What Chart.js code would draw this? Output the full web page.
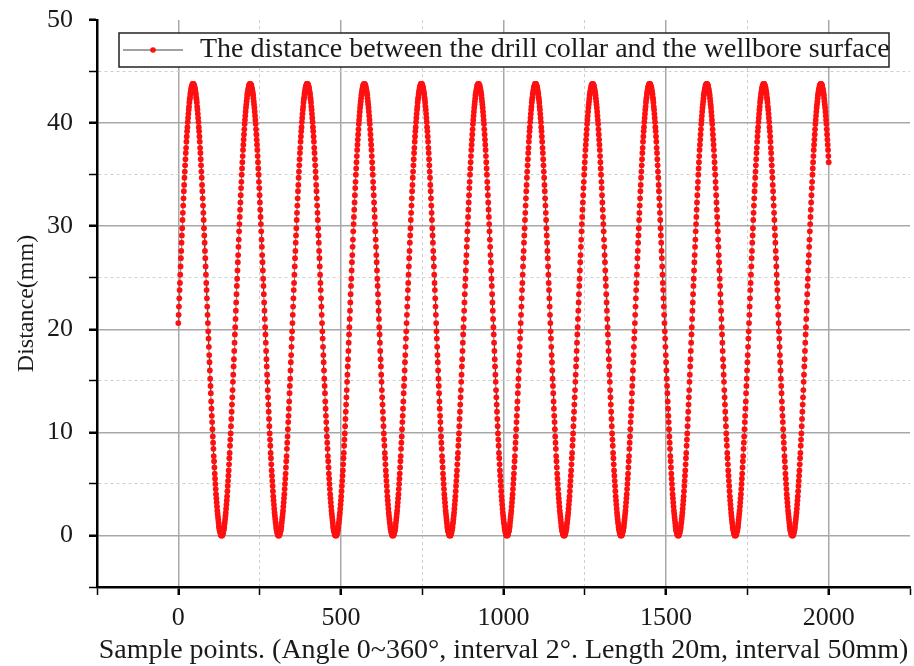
<!DOCTYPE html>
<html>
<head>
<meta charset="utf-8">
<script src="https://cdn.jsdelivr.net/npm/chart.js@4.4.1/dist/chart.umd.min.js"></script>
<style>
  html, body { margin: 0; padding: 0; background: #fff; }
  #wrap { width: 914px; height: 666px; }
</style>
</head>
<body>
<div id="wrap"><canvas id="c" width="914" height="666"></canvas></div>
<script>
var seriesLabel = "The distance between the drill collar and the wellbore surface";
var xTitle = "Sample points. (Angle 0~360\u00b0, interval 2\u00b0. Length 20m, interval 50mm)";
var yTitle = "Distance(mm)";

var xMajorTicks = [0, 500, 1000, 1500, 2000];
var xMinorTicks = [-250, 250, 750, 1250, 1750, 2250];
var yMajorTicks = [0, 10, 20, 30, 40, 50];
var yMinorTicks = [-5, 5, 15, 25, 35, 45];

// sample points are consecutive, starting here
var firstSample = 0;

// distance (mm), one value per sample point 0..2000
var distance = [
  20.6,21.4,22.2,23.0,23.8,24.5,25.3,26.1,26.9,27.6,28.4,29.1,29.8,30.6,31.3,32.0,32.7,33.4,34.0,34.7,35.3,35.9,36.5,37.1,37.6,38.2,38.7,39.2,39.6,40.1,40.5,40.9,41.3,41.6,42.0,42.3,42.5,42.8,43.0,43.2,43.4,43.5,43.6,43.7,43.8,43.8,
  43.8,43.8,43.7,43.6,43.5,43.4,43.2,43.0,42.8,42.5,42.3,42.0,41.6,41.3,40.9,40.5,40.1,39.6,39.2,38.7,38.2,37.6,37.1,36.5,35.9,35.3,34.7,34.0,33.4,32.7,32.0,31.3,30.6,29.8,29.1,28.4,27.6,26.9,26.1,25.3,24.5,23.8,23.0,22.2,21.4,20.6,19.8,19.1,18.3,17.5,16.8,16.0,15.2,14.5,13.8,13.0,12.3,11.6,11.0,10.3,9.6,9.0,8.4,7.7,7.2,6.6,6.0,5.5,5.0,4.5,4.0,3.6,3.2,2.8,2.4,2.1,1.8,1.5,1.2,0.9,0.7,0.5,0.4,0.3,0.1,0.1,0.0,0.0,
  0.0,0.0,0.1,0.2,0.3,0.5,0.6,0.8,1.1,1.3,1.6,1.9,2.2,2.6,3.0,3.4,3.8,4.3,4.8,5.3,5.8,6.3,6.9,7.5,8.0,8.7,9.3,9.9,10.6,11.3,12.0,12.7,13.4,14.1,14.9,15.6,16.4,17.1,17.9,18.7,19.5,20.2,21.0,21.8,22.6,23.4,24.2,24.9,25.7,26.5,27.2,28.0,28.7,29.5,30.2,30.9,31.6,32.3,33.0,33.7,34.3,35.0,35.6,36.2,36.8,37.4,37.9,38.4,38.9,39.4,39.9,40.3,40.7,41.1,41.5,41.8,42.1,42.4,42.7,42.9,43.1,43.3,43.4,43.6,43.7,43.7,43.8,
  43.8,43.8,43.7,43.7,43.6,43.4,43.3,43.1,42.9,42.7,42.4,42.1,41.8,41.5,41.1,40.7,40.3,39.9,39.4,38.9,38.4,37.9,37.4,36.8,36.2,35.6,35.0,34.3,33.7,33.0,32.3,31.6,30.9,30.2,29.5,28.7,28.0,27.2,26.5,25.7,24.9,24.2,23.4,22.6,21.8,21.0,20.2,19.5,18.7,17.9,17.1,16.4,15.6,14.9,14.1,13.4,12.7,12.0,11.3,10.6,9.9,9.3,8.7,8.0,7.5,6.9,6.3,5.8,5.3,4.8,4.3,3.8,3.4,3.0,2.6,2.2,1.9,1.6,1.3,1.1,0.8,0.6,0.5,0.3,0.2,0.1,0.0,0.0,
  0.0,0.0,0.1,0.1,0.3,0.4,0.5,0.7,0.9,1.2,1.5,1.8,2.1,2.4,2.8,3.2,3.6,4.0,4.5,5.0,5.5,6.0,6.6,7.2,7.7,8.4,9.0,9.6,10.3,11.0,11.6,12.3,13.0,13.8,14.5,15.2,16.0,16.8,17.5,18.3,19.1,19.8,20.6,21.4,22.2,23.0,23.8,24.5,25.3,26.1,26.9,27.6,28.4,29.1,29.8,30.6,31.3,32.0,32.7,33.4,34.0,34.7,35.3,35.9,36.5,37.1,37.6,38.2,38.7,39.2,39.6,40.1,40.5,40.9,41.3,41.6,42.0,42.3,42.5,42.8,43.0,43.2,43.4,43.5,43.6,43.7,43.8,43.8,
  43.8,43.8,43.7,43.6,43.5,43.4,43.2,43.0,42.8,42.5,42.3,42.0,41.6,41.3,40.9,40.5,40.1,39.6,39.2,38.7,38.2,37.6,37.1,36.5,35.9,35.3,34.7,34.0,33.4,32.7,32.0,31.3,30.6,29.8,29.1,28.4,27.6,26.9,26.1,25.3,24.5,23.8,23.0,22.2,21.4,20.6,19.8,19.1,18.3,17.5,16.8,16.0,15.2,14.5,13.8,13.0,12.3,11.6,11.0,10.3,9.6,9.0,8.4,7.7,7.2,6.6,6.0,5.5,5.0,4.5,4.0,3.6,3.2,2.8,2.4,2.1,1.8,1.5,1.2,0.9,0.7,0.5,0.4,0.3,0.1,0.1,0.0,0.0,
  0.0,0.0,0.1,0.2,0.3,0.5,0.6,0.8,1.1,1.3,1.6,1.9,2.2,2.6,3.0,3.4,3.8,4.3,4.8,5.3,5.8,6.3,6.9,7.5,8.0,8.7,9.3,9.9,10.6,11.3,12.0,12.7,13.4,14.1,14.9,15.6,16.4,17.1,17.9,18.7,19.5,20.2,21.0,21.8,22.6,23.4,24.2,24.9,25.7,26.5,27.2,28.0,28.7,29.5,30.2,30.9,31.6,32.3,33.0,33.7,34.3,35.0,35.6,36.2,36.8,37.4,37.9,38.4,38.9,39.4,39.9,40.3,40.7,41.1,41.5,41.8,42.1,42.4,42.7,42.9,43.1,43.3,43.4,43.6,43.7,43.7,43.8,
  43.8,43.8,43.7,43.7,43.6,43.4,43.3,43.1,42.9,42.7,42.4,42.1,41.8,41.5,41.1,40.7,40.3,39.9,39.4,38.9,38.4,37.9,37.4,36.8,36.2,35.6,35.0,34.3,33.7,33.0,32.3,31.6,30.9,30.2,29.5,28.7,28.0,27.2,26.5,25.7,24.9,24.2,23.4,22.6,21.8,21.0,20.2,19.5,18.7,17.9,17.1,16.4,15.6,14.9,14.1,13.4,12.7,12.0,11.3,10.6,9.9,9.3,8.7,8.0,7.5,6.9,6.3,5.8,5.3,4.8,4.3,3.8,3.4,3.0,2.6,2.2,1.9,1.6,1.3,1.1,0.8,0.6,0.5,0.3,0.2,0.1,0.0,0.0,
  0.0,0.0,0.1,0.1,0.3,0.4,0.5,0.7,0.9,1.2,1.5,1.8,2.1,2.4,2.8,3.2,3.6,4.0,4.5,5.0,5.5,6.0,6.6,7.2,7.7,8.4,9.0,9.6,10.3,11.0,11.6,12.3,13.0,13.8,14.5,15.2,16.0,16.8,17.5,18.3,19.1,19.8,20.6,21.4,22.2,23.0,23.8,24.5,25.3,26.1,26.9,27.6,28.4,29.1,29.8,30.6,31.3,32.0,32.7,33.4,34.0,34.7,35.3,35.9,36.5,37.1,37.6,38.2,38.7,39.2,39.6,40.1,40.5,40.9,41.3,41.6,42.0,42.3,42.5,42.8,43.0,43.2,43.4,43.5,43.6,43.7,43.8,43.8,
  43.8,43.8,43.7,43.6,43.5,43.4,43.2,43.0,42.8,42.5,42.3,42.0,41.6,41.3,40.9,40.5,40.1,39.6,39.2,38.7,38.2,37.6,37.1,36.5,35.9,35.3,34.7,34.0,33.4,32.7,32.0,31.3,30.6,29.8,29.1,28.4,27.6,26.9,26.1,25.3,24.5,23.8,23.0,22.2,21.4,20.6,19.8,19.1,18.3,17.5,16.8,16.0,15.2,14.5,13.8,13.0,12.3,11.6,11.0,10.3,9.6,9.0,8.4,7.7,7.2,6.6,6.0,5.5,5.0,4.5,4.0,3.6,3.2,2.8,2.4,2.1,1.8,1.5,1.2,0.9,0.7,0.5,0.4,0.3,0.1,0.1,0.0,0.0,
  0.0,0.0,0.1,0.2,0.3,0.5,0.6,0.8,1.1,1.3,1.6,1.9,2.2,2.6,3.0,3.4,3.8,4.3,4.8,5.3,5.8,6.3,6.9,7.5,8.0,8.7,9.3,9.9,10.6,11.3,12.0,12.7,13.4,14.1,14.9,15.6,16.4,17.1,17.9,18.7,19.5,20.2,21.0,21.8,22.6,23.4,24.2,24.9,25.7,26.5,27.2,28.0,28.7,29.5,30.2,30.9,31.6,32.3,33.0,33.7,34.3,35.0,35.6,36.2,36.8,37.4,37.9,38.4,38.9,39.4,39.9,40.3,40.7,41.1,41.5,41.8,42.1,42.4,42.7,42.9,43.1,43.3,43.4,43.6,43.7,43.7,43.8,
  43.8,43.8,43.7,43.7,43.6,43.4,43.3,43.1,42.9,42.7,42.4,42.1,41.8,41.5,41.1,40.7,40.3,39.9,39.4,38.9,38.4,37.9,37.4,36.8,36.2,35.6,35.0,34.3,33.7,33.0,32.3,31.6,30.9,30.2,29.5,28.7,28.0,27.2,26.5,25.7,24.9,24.2,23.4,22.6,21.8,21.0,20.2,19.5,18.7,17.9,17.1,16.4,15.6,14.9,14.1,13.4,12.7,12.0,11.3,10.6,9.9,9.3,8.7,8.0,7.5,6.9,6.3,5.8,5.3,4.8,4.3,3.8,3.4,3.0,2.6,2.2,1.9,1.6,1.3,1.1,0.8,0.6,0.5,0.3,0.2,0.1,0.0,0.0,
  0.0,0.0,0.1,0.1,0.3,0.4,0.5,0.7,0.9,1.2,1.5,1.8,2.1,2.4,2.8,3.2,3.6,4.0,4.5,5.0,5.5,6.0,6.6,7.2,7.7,8.4,9.0,9.6,10.3,11.0,11.6,12.3,13.0,13.8,14.5,15.2,16.0,16.8,17.5,18.3,19.1,19.8,20.6,21.4,22.2,23.0,23.8,24.5,25.3,26.1,26.9,27.6,28.4,29.1,29.8,30.6,31.3,32.0,32.7,33.4,34.0,34.7,35.3,35.9,36.5,37.1,37.6,38.2,38.7,39.2,39.6,40.1,40.5,40.9,41.3,41.6,42.0,42.3,42.5,42.8,43.0,43.2,43.4,43.5,43.6,43.7,43.8,43.8,
  43.8,43.8,43.7,43.6,43.5,43.4,43.2,43.0,42.8,42.5,42.3,42.0,41.6,41.3,40.9,40.5,40.1,39.6,39.2,38.7,38.2,37.6,37.1,36.5,35.9,35.3,34.7,34.0,33.4,32.7,32.0,31.3,30.6,29.8,29.1,28.4,27.6,26.9,26.1,25.3,24.5,23.8,23.0,22.2,21.4,20.6,19.8,19.1,18.3,17.5,16.8,16.0,15.2,14.5,13.8,13.0,12.3,11.6,11.0,10.3,9.6,9.0,8.4,7.7,7.2,6.6,6.0,5.5,5.0,4.5,4.0,3.6,3.2,2.8,2.4,2.1,1.8,1.5,1.2,0.9,0.7,0.5,0.4,0.3,0.1,0.1,0.0,0.0,
  0.0,0.0,0.1,0.2,0.3,0.5,0.6,0.8,1.1,1.3,1.6,1.9,2.2,2.6,3.0,3.4,3.8,4.3,4.8,5.3,5.8,6.3,6.9,7.5,8.0,8.7,9.3,9.9,10.6,11.3,12.0,12.7,13.4,14.1,14.9,15.6,16.4,17.1,17.9,18.7,19.5,20.2,21.0,21.8,22.6,23.4,24.2,24.9,25.7,26.5,27.2,28.0,28.7,29.5,30.2,30.9,31.6,32.3,33.0,33.7,34.3,35.0,35.6,36.2,36.8,37.4,37.9,38.4,38.9,39.4,39.9,40.3,40.7,41.1,41.5,41.8,42.1,42.4,42.7,42.9,43.1,43.3,43.4,43.6,43.7,43.7,43.8,
  43.8,43.8,43.7,43.7,43.6,43.4,43.3,43.1,42.9,42.7,42.4,42.1,41.8,41.5,41.1,40.7,40.3,39.9,39.4,38.9,38.4,37.9,37.4,36.8,36.2,35.6,35.0,34.3,33.7,33.0,32.3,31.6,30.9,30.2,29.5,28.7,28.0,27.2,26.5,25.7,24.9,24.2,23.4,22.6,21.8,21.0,20.2,19.5,18.7,17.9,17.1,16.4,15.6,14.9,14.1,13.4,12.7,12.0,11.3,10.6,9.9,9.3,8.7,8.0,7.5,6.9,6.3,5.8,5.3,4.8,4.3,3.8,3.4,3.0,2.6,2.2,1.9,1.6,1.3,1.1,0.8,0.6,0.5,0.3,0.2,0.1,0.0,0.0,
  0.0,0.0,0.1,0.1,0.3,0.4,0.5,0.7,0.9,1.2,1.5,1.8,2.1,2.4,2.8,3.2,3.6,4.0,4.5,5.0,5.5,6.0,6.6,7.2,7.7,8.4,9.0,9.6,10.3,11.0,11.6,12.3,13.0,13.8,14.5,15.2,16.0,16.8,17.5,18.3,19.1,19.8,20.6,21.4,22.2,23.0,23.8,24.5,25.3,26.1,26.9,27.6,28.4,29.1,29.8,30.6,31.3,32.0,32.7,33.4,34.0,34.7,35.3,35.9,36.5,37.1,37.6,38.2,38.7,39.2,39.6,40.1,40.5,40.9,41.3,41.6,42.0,42.3,42.5,42.8,43.0,43.2,43.4,43.5,43.6,43.7,43.8,43.8,
  43.8,43.8,43.7,43.6,43.5,43.4,43.2,43.0,42.8,42.5,42.3,42.0,41.6,41.3,40.9,40.5,40.1,39.6,39.2,38.7,38.2,37.6,37.1,36.5,35.9,35.3,34.7,34.0,33.4,32.7,32.0,31.3,30.6,29.8,29.1,28.4,27.6,26.9,26.1,25.3,24.5,23.8,23.0,22.2,21.4,20.6,19.8,19.1,18.3,17.5,16.8,16.0,15.2,14.5,13.8,13.0,12.3,11.6,11.0,10.3,9.6,9.0,8.4,7.7,7.2,6.6,6.0,5.5,5.0,4.5,4.0,3.6,3.2,2.8,2.4,2.1,1.8,1.5,1.2,0.9,0.7,0.5,0.4,0.3,0.1,0.1,0.0,0.0,
  0.0,0.0,0.1,0.2,0.3,0.5,0.6,0.8,1.1,1.3,1.6,1.9,2.2,2.6,3.0,3.4,3.8,4.3,4.8,5.3,5.8,6.3,6.9,7.5,8.0,8.7,9.3,9.9,10.6,11.3,12.0,12.7,13.4,14.1,14.9,15.6,16.4,17.1,17.9,18.7,19.5,20.2,21.0,21.8,22.6,23.4,24.2,24.9,25.7,26.5,27.2,28.0,28.7,29.5,30.2,30.9,31.6,32.3,33.0,33.7,34.3,35.0,35.6,36.2,36.8,37.4,37.9,38.4,38.9,39.4,39.9,40.3,40.7,41.1,41.5,41.8,42.1,42.4,42.7,42.9,43.1,43.3,43.4,43.6,43.7,43.7,43.8,
  43.8,43.8,43.7,43.7,43.6,43.4,43.3,43.1,42.9,42.7,42.4,42.1,41.8,41.5,41.1,40.7,40.3,39.9,39.4,38.9,38.4,37.9,37.4,36.8,36.2,35.6,35.0,34.3,33.7,33.0,32.3,31.6,30.9,30.2,29.5,28.7,28.0,27.2,26.5,25.7,24.9,24.2,23.4,22.6,21.8,21.0,20.2,19.5,18.7,17.9,17.1,16.4,15.6,14.9,14.1,13.4,12.7,12.0,11.3,10.6,9.9,9.3,8.7,8.0,7.5,6.9,6.3,5.8,5.3,4.8,4.3,3.8,3.4,3.0,2.6,2.2,1.9,1.6,1.3,1.1,0.8,0.6,0.5,0.3,0.2,0.1,0.0,0.0,
  0.0,0.0,0.1,0.1,0.3,0.4,0.5,0.7,0.9,1.2,1.5,1.8,2.1,2.4,2.8,3.2,3.6,4.0,4.5,5.0,5.5,6.0,6.6,7.2,7.7,8.4,9.0,9.6,10.3,11.0,11.6,12.3,13.0,13.8,14.5,15.2,16.0,16.8,17.5,18.3,19.1,19.8,20.6,21.4,22.2,23.0,23.8,24.5,25.3,26.1,26.9,27.6,28.4,29.1,29.8,30.6,31.3,32.0,32.7,33.4,34.0,34.7,35.3,35.9,36.5,37.1,37.6,38.2,38.7,39.2,39.6,40.1,40.5,40.9,41.3,41.6,42.0,42.3,42.5,42.8,43.0,43.2,43.4,43.5,43.6,43.7,43.8,43.8,
  43.8,43.8,43.7,43.6,43.5,43.4,43.2,43.0,42.8,42.5,42.3,42.0,41.6,41.3,40.9,40.5,40.1,39.6,39.2,38.7,38.2,37.6,37.1,36.5,35.9,35.3,34.7,34.0,33.4,32.7,32.0,31.3,30.6,29.8,29.1,28.4,27.6,26.9,26.1,25.3,24.5,23.8,23.0,22.2,21.4,20.6,19.8,19.1,18.3,17.5,16.8,16.0,15.2,14.5,13.8,13.0,12.3,11.6,11.0,10.3,9.6,9.0,8.4,7.7,7.2,6.6,6.0,5.5,5.0,4.5,4.0,3.6,3.2,2.8,2.4,2.1,1.8,1.5,1.2,0.9,0.7,0.5,0.4,0.3,0.1,0.1,0.0,0.0,
  0.0,0.0,0.1,0.2,0.3,0.5,0.6,0.8,1.1,1.3,1.6,1.9,2.2,2.6,3.0,3.4,3.8,4.3,4.8,5.3,5.8,6.3,6.9,7.5,8.0,8.7,9.3,9.9,10.6,11.3,12.0,12.7,13.4,14.1,14.9,15.6,16.4,17.1,17.9,18.7,19.5,20.2,21.0,21.8,22.6,23.4,24.2,24.9,25.7,26.5,27.2,28.0,28.7,29.5,30.2,30.9,31.6,32.3,33.0,33.7,34.3,35.0,35.6,36.2,36.8,37.4,37.9,38.4,38.9,39.4,39.9,40.3,40.7,41.1,41.5,41.8,42.1,42.4,42.7,42.9,43.1,43.3,43.4,43.6,43.7,43.7,43.8,
  43.8,43.8,43.7,43.7,43.6,43.4,43.3,43.1,42.9,42.7,42.4,42.1,41.8,41.5,41.1,40.7,40.3,39.9,39.4,38.9,38.4,37.9,37.4,36.8,36.2
];

var FONT = "'Liberation Serif', 'Times New Roman', serif";
var TEXT = "#1a1a1a";

function has(list, v) { return list.indexOf(v) !== -1; }

var points = [];
for (var i = 0; i < distance.length; i++) {
  points.push({ x: firstSample + i, y: distance[i] });
}

// grid helpers: major = solid gray, minor = dotted light gray, axis ends hidden
function gridColor(major, ends) {
  return function (c) {
    if (!c.tick) return "#a8a8a8";
    var v = c.tick.value;
    if (has(ends, v)) return "rgba(0,0,0,0)";
    return has(major, v) ? "#a8a8a8" : "#cfcfcf";
  };
}
function gridWidth(major) {
  return function (c) {
    if (!c.tick) return 1.5;
    return has(major, c.tick.value) ? 1.5 : 1;
  };
}
function gridDash(major) {
  return function (c) {
    if (!c.tick) return [];
    return has(major, c.tick.value) ? [] : [3, 3];
  };
}
function tickW(major) {
  return function (c) {
    if (!c.tick) return 2;
    return has(major, c.tick.value) ? 2.5 : 1.5;
  };
}

// the plot box is fixed like in the original, so drop the label overhang padding
function noPad(s) {
  s.paddingTop = 0;
  s.paddingBottom = 0;
  s.paddingLeft = 0;
  s.paddingRight = 0;
}

// legend drawn as a framed box inside the plot, like the original
var boxLegend = {
  id: "boxLegend",
  afterDraw: function (chart) {
    var a = chart.chartArea;
    var ctx = chart.ctx;
    var ds = chart.data.datasets[0];
    var left = a.left + 22, top = a.top + 13, right = a.right - 21, bottom = a.top + 47;
    var midY = (top + bottom) / 2;
    ctx.save();
    ctx.fillStyle = "#fff";
    ctx.fillRect(left, top, right - left, bottom - top);
    ctx.strokeStyle = "#222";
    ctx.lineWidth = 1.5;
    ctx.strokeRect(left, top, right - left, bottom - top);
    ctx.strokeStyle = "#444";
    ctx.lineWidth = 1;
    ctx.beginPath();
    ctx.moveTo(left + 4, midY);
    ctx.lineTo(left + 64, midY);
    ctx.stroke();
    ctx.fillStyle = ds.pointBackgroundColor;
    ctx.beginPath();
    ctx.arc(left + 34, midY, 2.8, 0, Math.PI * 2);
    ctx.fill();
    ctx.fillStyle = TEXT;
    ctx.font = "28px " + FONT;
    ctx.textBaseline = "alphabetic";
    ctx.textAlign = "left";
    ctx.fillText(ds.label, left + 81, top + 24);
    ctx.restore();
  }
};

var ctx = document.getElementById("c").getContext("2d");
new Chart(ctx, {
  type: "line",
  data: {
    datasets: [{
      label: seriesLabel,
      data: points,
      borderColor: "#4a4a4a",
      borderWidth: 0.8,
      pointRadius: 2.9,
      pointBackgroundColor: "#ff1010",
      pointBorderWidth: 0,
      pointStyle: "circle",
      tension: 0
    }]
  },
  options: {
    animation: false,
    responsive: false,
    devicePixelRatio: 1,
    layout: { padding: { left: 0, top: 20, right: 2, bottom: 0 } },
    plugins: {
      legend: { display: false },
      tooltip: { enabled: false }
    },
    scales: {
      x: {
        type: "linear",
        min: -250,
        max: 2250,
        afterBuildTicks: function (s) {
          s.ticks = xMinorTicks.concat(xMajorTicks)
            .sort(function (a, b) { return a - b; })
            .map(function (v) { return { value: v }; });
        },
        afterFit: function (s) { s.height = 79; noPad(s); },
        ticks: {
          autoSkip: false,
          maxRotation: 0,
          padding: 8,
          color: TEXT,
          font: { family: FONT, size: 26 },
          callback: function (v) { return has(xMajorTicks, v) ? String(v) : ""; }
        },
        grid: {
          color: gridColor(xMajorTicks, [-250, 2250]),
          lineWidth: gridWidth(xMajorTicks),
          tickLength: 8,
          tickColor: "#000",
          tickWidth: tickW(xMajorTicks)
        },
        border: { color: "#000", width: 2.5, dash: gridDash(xMajorTicks) },
        title: {
          display: true,
          text: xTitle,
          color: TEXT,
          font: { family: FONT, size: 28, lineHeight: 1.1 },
          padding: { top: 0, bottom: 0 }
        }
      },
      y: {
        type: "linear",
        min: -5,
        max: 50,
        afterBuildTicks: function (s) {
          s.ticks = yMinorTicks.concat(yMajorTicks)
            .sort(function (a, b) { return a - b; })
            .map(function (v) { return { value: v }; });
        },
        afterFit: function (s) { s.width = 97; noPad(s); },
        ticks: {
          autoSkip: false,
          padding: 16,
          color: TEXT,
          font: { family: FONT, size: 26 },
          callback: function (v) { return has(yMajorTicks, v) ? String(v) : ""; }
        },
        grid: {
          color: gridColor(yMajorTicks, [-5, 50]),
          lineWidth: gridWidth(yMajorTicks),
          tickLength: 8,
          tickColor: "#000",
          tickWidth: tickW(yMajorTicks)
        },
        border: { color: "#000", width: 2.5, dash: gridDash(yMajorTicks) },
        title: {
          display: true,
          text: yTitle,
          color: TEXT,
          font: { family: FONT, size: 24 },
          padding: { top: 12, bottom: 0 }
        }
      }
    }
  },
  plugins: [boxLegend]
});
</script>
</body>
</html>
